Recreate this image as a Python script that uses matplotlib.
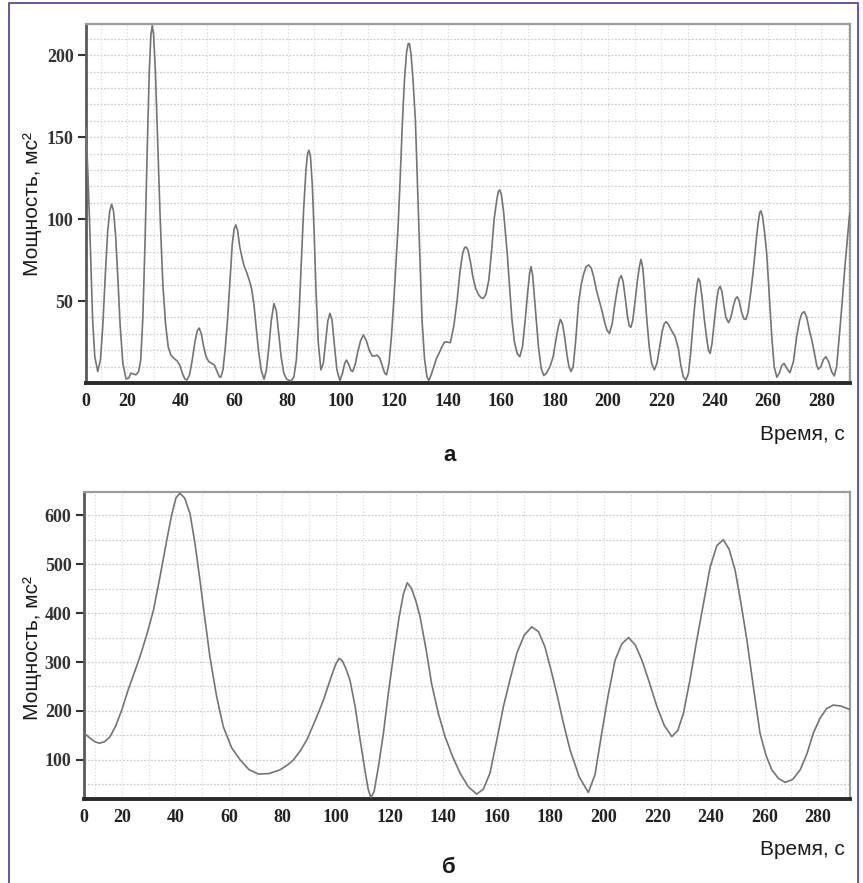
import matplotlib
matplotlib.use("Agg")
import matplotlib.pyplot as plt
from matplotlib.lines import Line2D
from matplotlib.ticker import MultipleLocator

# спектр мощности, панель (а)
t_a = [4.5, 5.2, 5.8, 6.4, 7.0, 7.8, 8.9, 9.9, 10.8, 11.7, 12.6, 13.4, 14.1, 14.8, 15.6, 16.4, 17.3, 18.3,
       19.5, 20.5, 21.3, 22.2, 23.2, 24.2, 25.0, 25.8, 26.6, 27.4, 28.2, 28.8, 29.3, 29.8, 30.5, 31.4, 32.3,
       33.3, 34.3, 35.3, 36.3, 37.5, 38.6, 39.6, 40.6, 41.5, 42.3, 43.3, 44.3, 45.3, 46.2, 46.9, 47.7, 48.6,
       49.5, 50.5, 51.6, 52.6, 53.6, 54.4, 55.0, 55.8, 56.6, 57.5, 58.4, 59.3, 60.0, 60.6, 61.3, 62.1, 63.0,
       63.8, 64.8, 65.8, 66.6, 67.4, 68.2, 69.1, 70.1, 71.2, 72.1, 73.0, 73.9, 74.9, 75.8, 76.7, 77.6, 78.6,
       79.6, 80.6, 81.5, 82.4, 83.3, 84.2, 85.1, 86.0, 86.9, 87.5, 88.0, 88.6, 89.3, 90.0, 90.7, 91.5, 92.5,
       93.4, 94.3, 95.1, 95.9, 96.7, 97.5, 98.5, 99.6, 100.6, 101.4, 102.1, 103.0, 103.8, 104.4, 105.3, 106.3,
       107.4, 108.4, 109.5, 110.6, 111.7, 112.6, 113.6, 114.6, 115.6, 116.4, 117.1, 118.0, 118.9, 119.8,
       120.6, 121.4, 122.2, 123.0, 123.8, 124.6, 125.2, 125.7, 126.3, 127.0, 127.9, 128.7, 129.5, 130.4,
       131.3, 132.2, 132.9, 133.8, 134.8, 135.8, 136.7, 137.8, 138.8, 139.8, 141.0, 142.3, 143.5, 144.6,
       145.6, 146.3, 146.9, 147.6, 148.5, 149.4, 150.4, 151.5, 152.5, 153.3, 154.3, 155.4, 156.4, 157.4,
       158.4, 159.0, 159.5, 160.1, 160.9, 161.6, 162.3, 163.2, 164.1, 165.0, 166.0, 167.0, 168.0, 169.0,
       170.0, 170.7, 171.2, 171.8, 172.5, 173.2, 174.0, 175.0, 176.0, 177.0, 178.3, 179.5, 180.5, 181.4,
       182.2, 183.0, 183.8, 184.6, 185.4, 186.2, 187.0, 187.9, 189.0, 190.0, 191.0, 191.9, 192.8, 193.8,
       194.8, 195.8, 196.8, 197.8, 198.8, 199.7, 200.6, 201.6, 202.6, 203.6, 204.3, 205.0, 205.7, 206.5,
       207.4, 208.0, 208.6, 209.3, 210.2, 211.1, 211.8, 212.4, 213.1, 213.8, 214.6, 215.5, 216.4, 217.4,
       218.4, 219.4, 220.4, 221.1, 221.8, 222.6, 223.5, 224.4, 225.2, 226.4, 227.3, 228.2, 229.2, 230.2,
       231.0, 231.9, 232.8, 233.5, 233.9, 234.5, 235.3, 236.2, 237.1, 237.7, 238.3, 239.0, 239.9, 240.8,
       241.4, 242.0, 242.7, 243.4, 244.2, 245.2, 246.1, 247.0, 247.8, 248.5, 249.2, 250.1, 251.0, 251.7,
       252.5, 253.5, 254.5, 255.5, 256.3, 256.9, 257.3, 257.9, 258.7, 259.5, 260.4, 261.4, 262.3, 263.3,
       264.2, 265.1, 266.0, 267.0, 268.2, 269.5, 270.7, 271.8, 272.7, 273.6, 274.5, 275.5, 276.4, 277.4,
       278.2, 278.8, 279.8, 280.8, 281.7, 282.7, 283.8, 284.8, 285.7, 286.5, 287.4, 288.2, 289.0, 289.7,
       290.4, 290.7]
p_a = [156, 128, 100, 68, 38, 16, 7, 14, 35, 65, 92, 105, 109, 105, 90, 65, 35, 12,
       2.5, 3, 6, 5.5, 5, 7, 14, 40, 85, 140, 190, 212, 218, 213, 190, 145, 100,
       60, 36, 22, 17, 15, 13.5, 11, 6, 2.5, 1.8, 5, 14, 25, 32, 33.5, 30, 22,
       16, 13, 12, 11, 7, 4, 3.5, 8, 20, 38, 62, 85, 94, 96.5, 93, 83, 76,
       71, 67, 62, 57, 48, 35, 20, 8, 2.3, 8, 22, 38, 48.5, 44, 30, 16, 6,
       2.5, 1.5, 1.5, 4, 14, 38, 72, 105, 130, 140, 142, 138, 120, 90, 55, 25, 8,
       12, 26, 38, 42.5, 38, 24, 8, 1.5, 6, 12, 14, 11, 7.5, 7, 11, 19,
       26, 29.3, 26, 20, 16.5, 16.5, 17, 15, 10, 6, 5, 12, 28, 50,
       72, 95, 125, 158, 185, 202, 207, 207, 200, 185, 160, 120, 80, 38,
       15, 4, 1.4, 5, 10, 15, 18, 22, 25, 25, 24.6, 35, 50, 68,
       79, 82.5, 83, 81, 74, 65, 58, 54, 52, 51.6, 54, 62.8, 80, 100,
       112, 117, 117.7, 115, 105, 92, 79, 58, 38, 25, 18, 16, 22, 38,
       56, 67, 71, 66, 52, 38, 22, 9, 4.5, 6, 10, 16, 26, 34,
       38.8, 36, 28, 18, 10, 7, 10, 25, 48.6, 60, 67, 71, 72, 70,
       64, 56, 50, 44, 37, 32, 30.3, 36, 48, 58, 63.5, 65.5, 62, 52,
       40, 35, 34, 38, 50, 63, 71, 75.4, 70, 56, 38.4, 22, 12, 8,
       12, 22, 32, 36, 37.4, 36, 33, 30.5, 28.2, 21, 11, 4, 1.8, 6,
       18, 36, 52, 61, 63.8, 62, 52, 38, 26, 20, 18, 24, 38, 51,
       57, 59, 56, 48, 40, 36.8, 40, 47, 51.5, 52.6, 50, 43, 39, 38.8,
       43, 55, 69, 86, 98, 104, 105, 102, 92, 79, 55, 28.2, 10, 3.5,
       6, 10.5, 12, 9, 6.3, 13, 28.2, 38, 42.5, 43.5, 40, 32, 26.2, 18,
       11, 8.4, 10, 14.5, 16, 13, 7, 4.3, 10, 25, 42, 58.7, 75, 88,
       100.4, 104]

# спектр мощности, панель (б)
t_b = [5.9, 8.0, 10.0, 11.6, 13.5, 15.6, 17.8, 20.0, 22.5, 24.8, 26.8, 29.3, 31.8, 34.3, 36.8, 38.6,
       40.2, 41.7, 43.5, 45.5, 47.4, 49.2, 51.0, 52.9, 55.4, 57.9, 61.0, 64.2, 67.5, 71.0, 75.0, 79.1,
       82.0, 84.1, 86.6, 89.1, 92.2, 95.3, 98.2, 100.0, 101.2, 102.4, 103.8, 105.2, 107.1, 109.0, 110.6,
       112.0, 113.0, 114.2, 115.8, 117.7, 119.5, 121.4, 123.5, 125.2, 126.6, 128.2, 129.8, 131.4, 133.8,
       135.7, 138.2, 140.7, 143.5, 146.3, 149.4, 152.5, 155.0, 157.5, 160.0, 162.5, 165.0, 167.5, 170.3,
       173.1, 175.6, 178.0, 180.2, 182.4, 184.9, 187.4, 190.8, 194.2, 196.7, 199.2, 201.7, 204.2, 206.7,
       209.2, 211.7, 214.2, 217.0, 219.8, 222.6, 225.4, 227.6, 229.7, 232.2, 234.7, 237.2, 239.7, 242.2,
       244.6, 246.8, 249.0, 251.2, 253.4, 255.8, 258.3, 260.5, 262.7, 265.2, 267.7, 270.5, 273.3, 275.8,
       278.2, 280.7, 283.2, 285.7, 288.5, 291.9]
p_b = [155, 145, 137, 134, 137, 147, 170, 202, 245, 280, 311, 355, 405, 475, 549, 600,
       635, 645, 635, 603, 540, 467, 390, 311, 230, 168, 125, 100, 80, 71, 72, 79.6,
       90, 100, 118, 141, 180, 222, 270, 297, 307.5, 302, 285, 263, 210, 141, 85,
       40, 23, 35, 85, 154.5, 235, 311, 390, 440, 462, 450, 425, 392, 320,
       255, 195, 147.6, 107, 73, 45, 30, 40, 73, 140, 209, 265, 318, 355,
       372, 362, 331, 285, 236, 175, 120, 65, 33.3, 70, 154.5, 235, 304, 337,
       350, 335, 304, 258, 209, 170, 147.6, 160, 195, 265, 345, 420, 494.5, 538,
       550, 530, 488, 420, 345, 250, 154.5, 110, 79.6, 62, 54, 60, 79.6, 112,
       154.5, 185, 205, 212, 210, 203]

xticks = list(range(20, 281, 20))
yticks_a = [50, 100, 150, 200]
yticks_b = [100, 200, 300, 400, 500, 600]

ylabel = "Мощность, мс²"
xlabel = "Время, с"

W, H = 863, 883
fig = plt.figure(figsize=(W / 100, H / 100), dpi=100)
fig.patch.set_facecolor("white")

ax_a = fig.add_axes([86 / W, 1 - 383 / H, 764 / W, 359 / H])
ax_b = fig.add_axes([84 / W, 1 - 799 / H, 766 / W, 307 / H])

tick_font = dict(family="Liberation Serif", weight="bold", size=13)


def style(ax, t, p, ylim, yticks, ystep):
    ax.plot(t, p, color="#747474", lw=1.2, solid_joinstyle="round", zorder=3)
    ax.set_xlim(t[0], t[-1])
    ax.set_ylim(*ylim)

    ax.set_xticks([t[0]] + xticks)
    ax.set_xticklabels(["0"] + [str(v) for v in xticks], fontdict=tick_font)
    ax.set_yticks(yticks)
    ax.set_yticklabels([str(v) for v in yticks], fontdict=tick_font)
    ax.xaxis.set_minor_locator(MultipleLocator(10))
    ax.yaxis.set_minor_locator(MultipleLocator(ystep))

    ax.tick_params(axis="x", which="both", length=0, pad=7, colors="#222222")
    ax.tick_params(axis="y", which="major", length=6, width=1.5, pad=3, colors="#333333")
    ax.tick_params(axis="y", which="minor", length=0)

    ax.grid(True, which="both", axis="x", color="#d4d4d4", lw=0.8, linestyle=(0, (1, 2)))
    ax.grid(True, which="both", axis="y", color="#cecece", lw=0.9, linestyle=(0, (1.5, 1.3)))
    ax.set_axisbelow(True)

    for side in ("top", "right"):
        ax.spines[side].set_color("#9c9c9c")
        ax.spines[side].set_linewidth(1.6)
    ax.spines["left"].set_color("#5a5a5a")
    ax.spines["left"].set_linewidth(2.0)
    ax.spines["bottom"].set_color("#2a2a2a")
    ax.spines["bottom"].set_linewidth(2.8)


style(ax_a, t_a, p_a, (0, 219), yticks_a, 10)
style(ax_b, t_b, p_b, (20, 647.5), yticks_b, 50)

lab_font = dict(family="Liberation Sans", size=15, color="#1a1a1a")
fig.text(33 / W, 1 - 204 / H, ylabel, rotation=90, ha="center", va="center", **lab_font)
fig.text(32 / W, 1 - 648 / H, ylabel, rotation=90, ha="center", va="center", **lab_font)
fig.text(845 / W, 1 - 440 / H, xlabel, ha="right", va="baseline", **lab_font)
fig.text(845 / W, 1 - 855 / H, xlabel, ha="right", va="baseline", **lab_font)

fig.text(450 / W, 1 - 461 / H, "а", ha="center", va="baseline",
         family="Liberation Sans", weight="bold", size=16, color="#1a1a1a")
fig.text(449 / W, 1 - 873 / H, "б", ha="center", va="baseline",
         family="Liberation Sans", weight="bold", size=16, color="#1a1a1a")

# рамка вокруг рисунка
fx0, fx1, fy1 = 8.5 / W, 858 / W, 1 - 3 / H
fig.add_artist(Line2D([fx0, fx0, fx1, fx1], [0, fy1, fy1, 0], transform=fig.transFigure,
                      color="#6a50b2", lw=1.4))

fig.savefig("out.png", dpi=100)
